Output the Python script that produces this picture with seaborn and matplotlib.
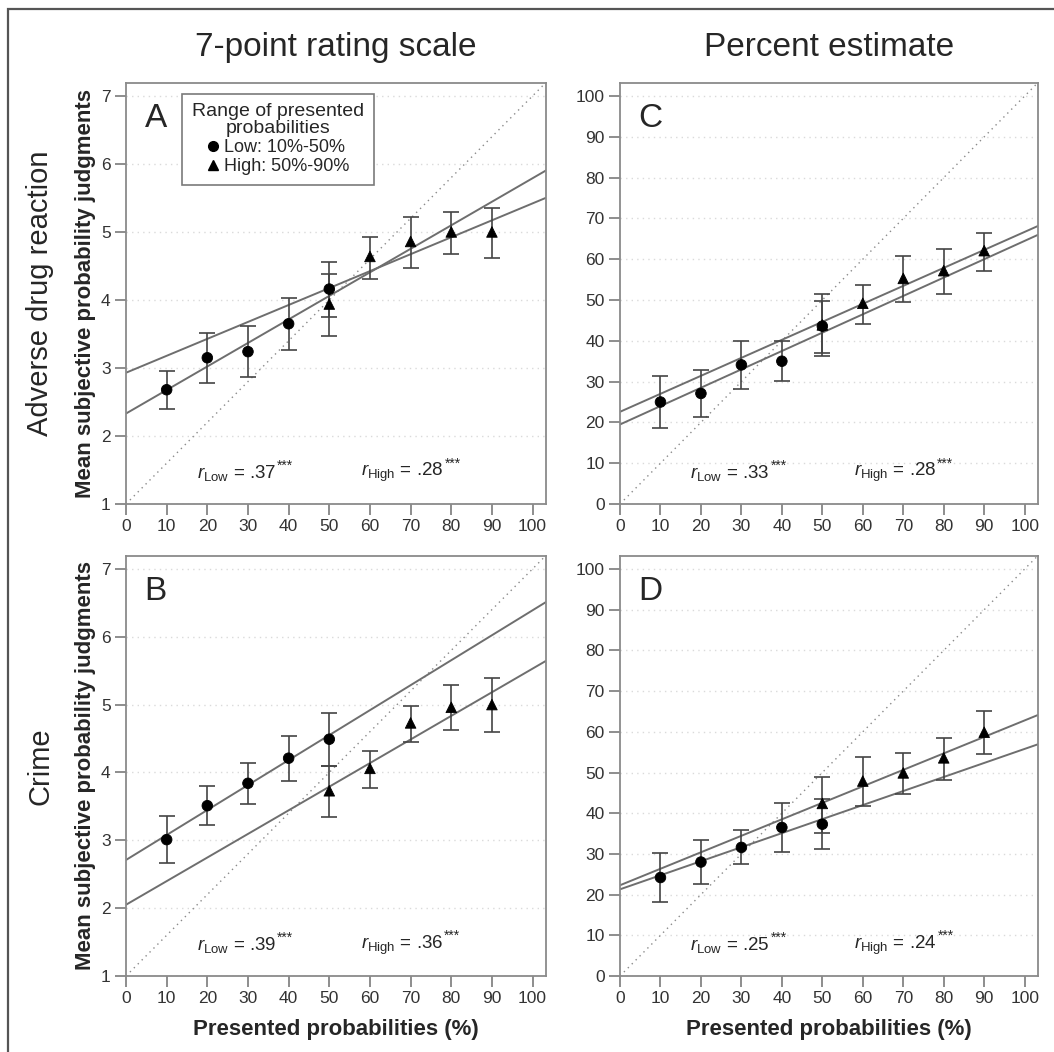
import numpy as np
import pandas as pd
import matplotlib
matplotlib.use('Agg')
import matplotlib.pyplot as plt
import seaborn as sns
from matplotlib.lines import Line2D
from matplotlib.patches import Rectangle

# presented probabilities (%)
x_low = [10, 20, 30, 40, 50]
x_high = [50, 60, 70, 80, 90]

# A: adverse drug reaction, 7-point rating scale
a_low_mean = [2.68, 3.15, 3.24, 3.65, 4.16]
a_low_upper = [2.95, 3.51, 3.62, 4.03, 4.56]
a_low_lower = [2.39, 2.78, 2.86, 3.27, 3.75]
a_high_mean = [3.94, 4.64, 4.86, 5.00, 5.00]
a_high_upper = [4.38, 4.93, 5.22, 5.29, 5.35]
a_high_lower = [3.47, 4.31, 4.47, 4.68, 4.62]
a_fit_low = [2.33, 0.0346]   # intercept, slope
a_fit_high = [2.93, 0.0249]
a_r = ['.37', '.28']

# B: crime, 7-point rating scale
b_low_mean = [3.01, 3.51, 3.84, 4.21, 4.49]
b_low_upper = [3.36, 3.80, 4.14, 4.54, 4.88]
b_low_lower = [2.66, 3.23, 3.53, 3.88, 4.09]
b_high_mean = [3.73, 4.06, 4.73, 4.96, 5.00]
b_high_upper = [4.09, 4.31, 4.98, 5.29, 5.39]
b_high_lower = [3.35, 3.77, 4.45, 4.62, 4.60]
b_fit_low = [2.71, 0.0368]
b_fit_high = [2.05, 0.0348]
b_r = ['.39', '.36']

# C: adverse drug reaction, percent estimate
c_low_mean = [25.0, 27.1, 34.1, 35.0, 43.6]
c_low_upper = [31.4, 32.8, 40.0, 40.0, 51.6]
c_low_lower = [18.7, 21.4, 28.3, 30.1, 36.9]
c_high_mean = [43.9, 49.2, 55.3, 57.2, 62.1]
c_high_upper = [49.8, 53.6, 60.8, 62.6, 66.5]
c_high_lower = [36.3, 44.1, 49.4, 51.5, 57.2]
c_fit_low = [19.5, 0.450]
c_fit_high = [22.6, 0.441]
c_r = ['.33', '.28']

# D: crime, percent estimate
d_low_mean = [24.2, 28.0, 31.6, 36.5, 37.3]
d_low_upper = [30.3, 33.5, 35.8, 42.5, 43.5]
d_low_lower = [18.2, 22.7, 27.4, 30.4, 31.1]
d_high_mean = [42.4, 47.9, 49.9, 53.6, 59.9]
d_high_upper = [48.9, 53.8, 54.7, 58.5, 65.0]
d_high_lower = [35.2, 41.8, 44.8, 48.1, 54.5]
d_fit_low = [21.3, 0.345]
d_fit_high = [22.3, 0.405]
d_r = ['.25', '.24']

rating_ticks = [1, 2, 3, 4, 5, 6, 7]
percent_ticks = [0, 10, 20, 30, 40, 50, 60, 70, 80, 90, 100]
x_ticks = [0, 10, 20, 30, 40, 50, 60, 70, 80, 90, 100]
rating_diag = [1, 0.06]
percent_diag = [0, 1.0]

sns.set_theme(style='white')
plt.rcParams['font.family'] = ['Liberation Sans', 'DejaVu Sans']
plt.rcParams['mathtext.fontset'] = 'custom'
plt.rcParams['mathtext.rm'] = 'Liberation Sans'
plt.rcParams['mathtext.it'] = 'Liberation Sans:italic'

fig = plt.figure(figsize=(10.54, 10.52), dpi=100)
W, H = 1054, 1052


def add_ax(left, top, right, bottom):
    return fig.add_axes([left / W, 1 - bottom / H, (right - left) / W, (bottom - top) / H])


ax_a = add_ax(126, 83, 546, 504)
ax_c = add_ax(620, 83, 1038, 504)
ax_b = add_ax(126, 556, 546, 976)
ax_d = add_ax(620, 556, 1038, 976)

XMAX = 103.3


def r_label(ax, xpos, sub, val):
    t = ax.text(xpos, 0.074, r'$r_{\mathrm{' + sub + '}}$ = ' + val,
                transform=ax.transAxes, fontsize=13.5, ha='left', va='center')
    ax.annotate('***', xy=(1, 1), xycoords=t, xytext=(0.5, -7), textcoords='offset points',
                fontsize=10, ha='left', va='bottom')


def draw_panel(ax, letter, lm, lu, ll, hm, hu, hl, fit_low, fit_high, r_vals, yticks, ylim, diag):
    # reference lines first
    xx = np.array([0, XMAX])
    ax.plot(xx, diag[0] + diag[1] * xx, linestyle=(0, (1, 3)), color='#8a8a8a', lw=1.0, zorder=1)
    for fit in (fit_low, fit_high):
        ax.plot(xx, fit[0] + fit[1] * xx, color='#6e6e6e', lw=1.4, zorder=2)

    # error bars
    ax.errorbar(x_low, lm, yerr=[np.array(lm) - np.array(ll), np.array(lu) - np.array(lm)],
                fmt='none', ecolor='#444444', elinewidth=1.2, capsize=6, capthick=1.2, zorder=3)
    ax.errorbar(x_high, hm, yerr=[np.array(hm) - np.array(hl), np.array(hu) - np.array(hm)],
                fmt='none', ecolor='#444444', elinewidth=1.2, capsize=6, capthick=1.2, zorder=3)

    df = pd.DataFrame({
        'x': x_low + x_high,
        'y': lm + hm,
        'range': ['Low'] * len(x_low) + ['High'] * len(x_high),
    })
    sns.scatterplot(data=df, x='x', y='y', style='range', markers={'Low': 'o', 'High': '^'},
                    color='black', edgecolor='black', s=58, legend=False, ax=ax, zorder=4)

    ax.set_xlim(0, XMAX)
    ax.set_ylim(*ylim)
    ax.set_xticks(x_ticks)
    ax.set_yticks(yticks)
    ax.set_xlabel('')
    ax.set_ylabel('')
    ax.yaxis.grid(True, linestyle=(0, (1, 3)), color='#dadada', lw=1.0)
    ax.set_axisbelow(True)
    ax.tick_params(direction='out', length=8, width=1.2, color='#7a7a7a',
                   labelsize=12.5, labelcolor='#333333', pad=3, left=True, bottom=True)
    for sp in ax.spines.values():
        sp.set_color('#8a8a8a')
        sp.set_linewidth(1.3)

    ax.text(0.044, 0.895, letter, transform=ax.transAxes, fontsize=24, ha='left', va='baseline')
    r_label(ax, 0.168, 'Low', r_vals[0])
    r_label(ax, 0.560, 'High', r_vals[1])


draw_panel(ax_a, 'A', a_low_mean, a_low_upper, a_low_lower, a_high_mean, a_high_upper, a_high_lower,
           a_fit_low, a_fit_high, a_r, rating_ticks, (1, 7.19), rating_diag)
draw_panel(ax_b, 'B', b_low_mean, b_low_upper, b_low_lower, b_high_mean, b_high_upper, b_high_lower,
           b_fit_low, b_fit_high, b_r, rating_ticks, (1, 7.19), rating_diag)
draw_panel(ax_c, 'C', c_low_mean, c_low_upper, c_low_lower, c_high_mean, c_high_upper, c_high_lower,
           c_fit_low, c_fit_high, c_r, percent_ticks, (0, 103.2), percent_diag)
draw_panel(ax_d, 'D', d_low_mean, d_low_upper, d_low_lower, d_high_mean, d_high_upper, d_high_lower,
           d_fit_low, d_fit_high, d_r, percent_ticks, (0, 103.2), percent_diag)

# legend in panel A
handles = [
    Line2D([], [], marker='o', color='black', linestyle='none', markersize=7),
    Line2D([], [], marker='^', color='black', linestyle='none', markersize=7.5),
]
leg = ax_a.legend(handles, ['Low: 10%-50%', 'High: 50%-90%'],
                  title='Range of presented\nprobabilities', loc='upper left',
                  bbox_to_anchor=(0.133, 0.975), fontsize=13, title_fontsize=14,
                  frameon=True, fancybox=False, edgecolor='#7a7a7a', framealpha=1,
                  handlelength=0.7, handletextpad=0.25, borderpad=0.55, labelspacing=0.1,
                  borderaxespad=0)
leg.get_frame().set_linewidth(1.2)
leg.get_title().set_multialignment('center')
leg.get_title().set_linespacing(1.0)

# column titles
fig.text(336 / W, 1 - 56 / H, '7-point rating scale', fontsize=24, ha='center', va='baseline')
fig.text(829 / W, 1 - 56 / H, 'Percent estimate', fontsize=24, ha='center', va='baseline')

# row labels
fig.text(40 / W, 1 - 293 / H, 'Adverse drug reaction', fontsize=21, rotation=90, ha='center', va='center')
fig.text(40 / W, 1 - 766 / H, 'Crime', fontsize=21, rotation=90, ha='center', va='center')

# y axis labels
fig.text(86 / W, 1 - 293 / H, 'Mean subjective probability judgments', fontsize=16,
         fontweight='bold', rotation=90, ha='center', va='center')
fig.text(86 / W, 1 - 766 / H, 'Mean subjective probability judgments', fontsize=16,
         fontweight='bold', rotation=90, ha='center', va='center')

# x axis labels
fig.text(336 / W, 1 - 1030 / H, 'Presented probabilities (%)', fontsize=16,
         fontweight='bold', ha='center', va='center')
fig.text(829 / W, 1 - 1030 / H, 'Presented probabilities (%)', fontsize=16,
         fontweight='bold', ha='center', va='center')

# outer frame (cut at right and bottom like the original)
fig.add_artist(Rectangle((8 / W, -0.1), 1.2, 1 - 9 / H + 0.1, transform=fig.transFigure,
                         fill=False, edgecolor='#555555', lw=1.6))

fig.savefig('out.png', dpi=100)
